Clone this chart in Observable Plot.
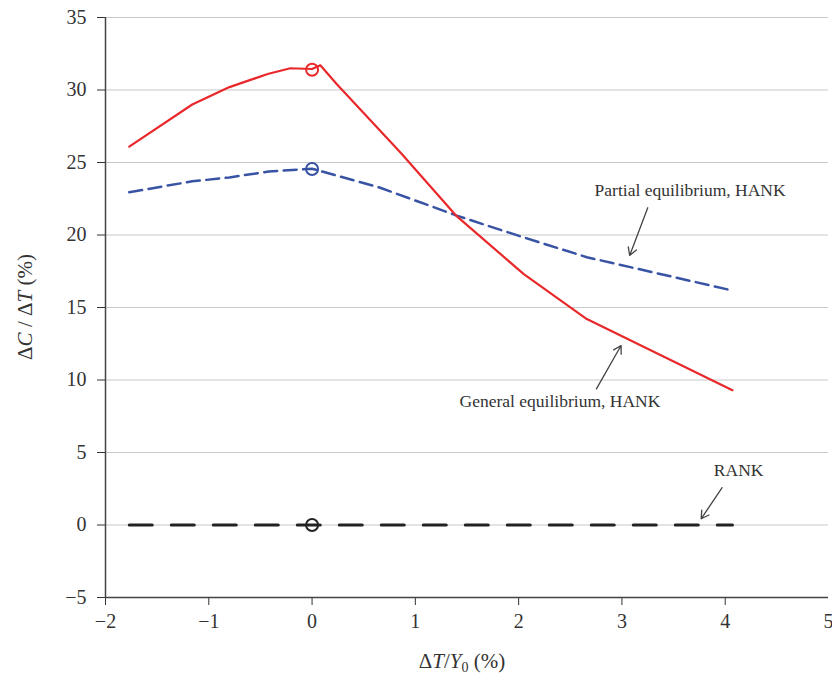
<!DOCTYPE html>
<html><head><meta charset="utf-8">
<script src="https://cdn.jsdelivr.net/npm/d3@7"></script>
<script src="https://cdn.jsdelivr.net/npm/@observablehq/plot@0.6"></script>
<style>body{margin:0;background:#fff}</style>
</head><body><div id="chart"></div>
<script>
// General equilibrium, HANK (red, solid)
const geX = [-1.77, -1.16, -0.80, -0.43, -0.21, 0.0, 0.08, 0.24, 0.86, 1.40, 2.05, 2.66, 4.07];
const geY = [26.1, 29.0, 30.2, 31.1, 31.5, 31.45, 31.7, 30.4, 25.65, 21.3, 17.3, 14.2, 9.3];
// Partial equilibrium, HANK (blue, dashed)
const peX = [-1.77, -1.16, -0.80, -0.42, 0.0, 0.66, 1.40, 2.05, 2.66, 4.07];
const peY = [22.95, 23.7, 23.97, 24.38, 24.57, 23.26, 21.34, 19.83, 18.47, 16.17];
// RANK (black, dashed)
const rankX = [-1.77, 4.07];
const rankY = [0, 0];
// circle markers at ΔT = 0
const markX = [0, 0, 0];
const markY = [31.4, 24.55, 0];
const markColor = ["#e8282b", "#3953a4", "#222222"];
// axis ticks
const xTicks = [-2, -1, 0, 1, 2, 3, 4, 5];
const yTicks = [-5, 0, 5, 10, 15, 20, 25, 30, 35];
// annotations
const annoText = ["Partial equilibrium, HANK", "General equilibrium, HANK", "RANK"];
const annoX = [3.66, 2.40, 4.13];
const annoY = [23.07, 8.52, 3.76];
const arrowX1 = [3.25, 2.753, 3.97];
const arrowY1 = [21.88, 9.39, 2.57];
const arrowX2 = [3.075, 2.992, 3.767];
const arrowY2 = [18.59, 12.38, 0.43];

const ge = geX.map((x, i) => ({x, y: geY[i]}));
const pe = peX.map((x, i) => ({x, y: peY[i]}));
const rank = rankX.map((x, i) => ({x, y: rankY[i]}));
const marks = markX.map((x, i) => ({x, y: markY[i], c: markColor[i]}));
const annos = annoText.map((t, i) => ({t, x: annoX[i], y: annoY[i]}));
const arrows = arrowX1.map((x1, i) => ({x1, y1: arrowY1[i], x2: arrowX2[i], y2: arrowY2[i]}));

const fmt = d => (d < 0 ? "\u2212" + Math.abs(d) : String(d));
const FONT = "'Liberation Serif', serif";

const chart = Plot.plot({
  width: 832, height: 674,
  marginLeft: 105, marginRight: 4, marginTop: 17, marginBottom: 77,
  style: {fontFamily: FONT, fontSize: "20px", background: "white", color: "#333"},
  x: {domain: [-2, 5], label: null},
  y: {domain: [-5, 35], label: null},
  marks: [
    Plot.ruleY(yTicks.filter(d => d > -5), {stroke: "#c8c8c8", strokeWidth: 1.2}),
    Plot.axisY(yTicks, {tickSize: 8, tickPadding: 11, tickFormat: fmt, label: null, fontSize: 20}),
    Plot.axisX(xTicks.filter(d => d < 5), {tickSize: 8, tickPadding: 8, tickFormat: fmt, label: null, fontSize: 20}),
    Plot.axisX(xTicks.filter(d => d >= 5), {tickSize: 8, tickPadding: 8, tickFormat: fmt, label: null, fontSize: 20, textAnchor: "end", dx: 5}),
    Plot.ruleX([-2], {stroke: "#444", strokeWidth: 1.5}),
    Plot.ruleY([-5], {stroke: "#444", strokeWidth: 1.5}),
    Plot.line(rank, {x: "x", y: "y", stroke: "#222", strokeWidth: 3, strokeDasharray: "23,19"}),
    Plot.line(pe, {x: "x", y: "y", stroke: "#3953a4", strokeWidth: 2.5, strokeDasharray: "13,6.5"}),
    Plot.line(ge, {x: "x", y: "y", stroke: "#e8282b", strokeWidth: 2.2}),
    Plot.dot(marks, {x: "x", y: "y", r: 6, stroke: "c", strokeWidth: 2, fill: "none"}),
    Plot.arrow(arrows, {x1: "x1", y1: "y1", x2: "x2", y2: "y2", stroke: "#444", strokeWidth: 1.3, headLength: 10}),
    Plot.text(annos, {x: "x", y: "y", text: "t", fontSize: 17.5, fill: "#333"})
  ]
});
document.getElementById("chart").appendChild(chart);

const svg = d3.select(chart);
// x axis label: ΔT/Y0 (%)
const xl = svg.append("text")
  .attr("x", 462).attr("y", 668)
  .attr("text-anchor", "middle")
  .style("font-family", FONT).style("font-size", "21px").attr("fill", "#333");
xl.append("tspan").text("Δ");
xl.append("tspan").attr("font-style", "italic").text("T");
xl.append("tspan").text("/");
xl.append("tspan").attr("font-style", "italic").text("Y");
xl.append("tspan").attr("font-size", "14px").attr("dy", "4").text("0");
xl.append("tspan").attr("dy", "-4").text(" (%)");
// y axis label: ΔC/ΔT (%)
const yl = svg.append("text")
  .attr("transform", "translate(32,307) rotate(-90)")
  .attr("text-anchor", "middle")
  .style("font-family", FONT).style("font-size", "21px").attr("fill", "#333");
yl.append("tspan").text("Δ");
yl.append("tspan").attr("font-style", "italic").text("C");
yl.append("tspan").text(" / Δ");
yl.append("tspan").attr("font-style", "italic").text("T");
yl.append("tspan").text(" (%)");
</script>
</body></html>
